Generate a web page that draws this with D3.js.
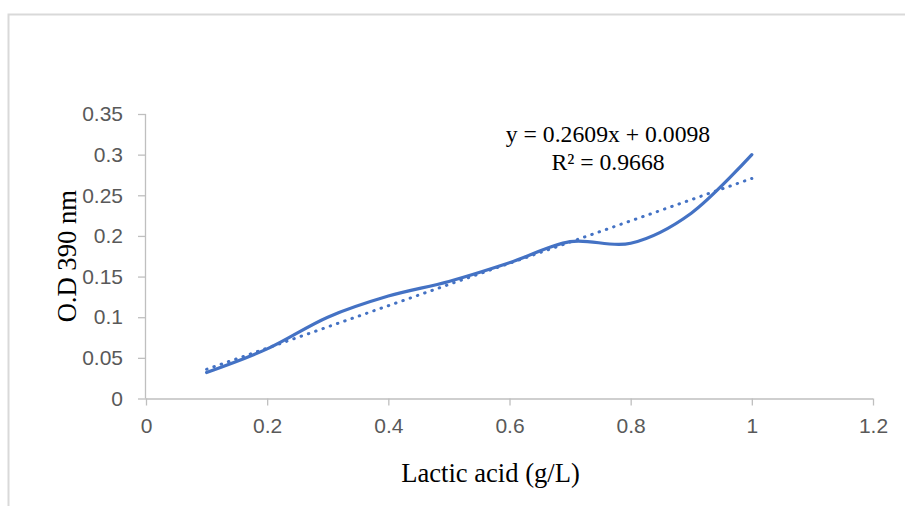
<!DOCTYPE html>
<html>
<head>
<meta charset="utf-8">
<script src="https://cdn.jsdelivr.net/npm/d3@7"></script>
<style>
  html, body { margin: 0; padding: 0; background: #fff; }
  svg { display: block; }
</style>
</head>
<body>
<div id="chart"></div>
<script>
// ---- data ----
const xValues = [0.1, 0.2, 0.3, 0.4, 0.5, 0.6, 0.7, 0.8, 0.9, 1.0];
const odValues = [0.032, 0.061, 0.100, 0.126, 0.144, 0.167, 0.193, 0.191, 0.228, 0.300];
const xTicks = [0, 0.2, 0.4, 0.6, 0.8, 1, 1.2];
const yTicks = [0, 0.05, 0.1, 0.15, 0.2, 0.25, 0.3, 0.35];
const trendSlope = 0.2609;
const trendIntercept = 0.0098;
const equationLines = ["y = 0.2609x + 0.0098", "R² = 0.9668"];
const xTitle = "Lactic acid (g/L)";
const yTitle = "O.D 390 nm";

// ---- layout ----
const W = 905, H = 506;
const plotLeft = 146, plotRight = 873, plotTop = 114, plotBottom = 398.5;
const blue = "#4472C4";

const svg = d3.select("#chart").append("svg").attr("width", W).attr("height", H);

// outer chart border
svg.append("rect")
  .attr("x", 8.5).attr("y", 14.5).attr("width", W + 20).attr("height", H + 20)
  .attr("fill", "none").attr("stroke", "#d9d9d9").attr("stroke-width", 2);

const x = d3.scaleLinear().domain([0, 1.2]).range([plotLeft, plotRight]);
const y = d3.scaleLinear().domain([0, 0.35]).range([plotBottom, plotTop]);

// axes
const xAxis = d3.axisBottom(x).tickValues(xTicks).tickSize(7).tickPadding(13)
  .tickFormat(d => String(d));
const yAxis = d3.axisLeft(y).tickValues(yTicks).tickSize(8).tickPadding(15)
  .tickFormat(d => String(d));

const gx = svg.append("g").attr("transform", `translate(0,${plotBottom})`).call(xAxis);
const gy = svg.append("g").attr("transform", `translate(${plotLeft},0)`).call(yAxis);

[gx, gy].forEach(g => {
  g.select(".domain").attr("stroke", "#bfbfbf").attr("stroke-width", 1.3);
  g.selectAll(".tick line").attr("stroke", "#bfbfbf").attr("stroke-width", 1.3);
  g.selectAll(".tick text")
    .attr("fill", "#595959")
    .style("font-family", "'Liberation Sans', Arial, sans-serif")
    .style("font-size", "21px");
});
gx.select(".domain").attr("d", `M${plotLeft},0.5H${plotRight}`);
gy.select(".domain").attr("d", `M-0.5,${plotTop}V${plotBottom}`);

// trendline (dotted)
const trendX = [d3.min(xValues), d3.max(xValues)];
svg.append("line")
  .attr("x1", x(trendX[0])).attr("y1", y(trendSlope * trendX[0] + trendIntercept))
  .attr("x2", x(trendX[1])).attr("y2", y(trendSlope * trendX[1] + trendIntercept))
  .attr("stroke", blue).attr("stroke-width", 3)
  .attr("stroke-linecap", "round")
  .attr("stroke-dasharray", "0.5 7.2");

// smoothed data line
const line = d3.line()
  .x((d, i) => x(xValues[i]))
  .y(d => y(d))
  .curve(d3.curveCatmullRom.alpha(0));
svg.append("path")
  .datum(odValues)
  .attr("d", line)
  .attr("fill", "none")
  .attr("stroke", blue)
  .attr("stroke-width", 3.2)
  .attr("stroke-linecap", "round")
  .attr("stroke-linejoin", "round");

// equation
const serif = "'Liberation Serif', 'Times New Roman', serif";
svg.append("text")
  .attr("x", 608).attr("y", 142)
  .attr("text-anchor", "middle")
  .style("font-family", serif).style("font-size", "23.7px").attr("fill", "#000")
  .text(equationLines[0]);
svg.append("text")
  .attr("x", 608).attr("y", 170)
  .attr("text-anchor", "middle")
  .style("font-family", serif).style("font-size", "23.7px").attr("fill", "#000")
  .text(equationLines[1]);

// axis titles
svg.append("text")
  .attr("x", 490.5).attr("y", 481.5)
  .attr("text-anchor", "middle")
  .style("font-family", serif).style("font-size", "26.6px").attr("fill", "#000")
  .text(xTitle);
svg.append("text")
  .attr("transform", `translate(76,${(plotTop + plotBottom) / 2}) rotate(-90)`)
  .attr("text-anchor", "middle")
  .style("font-family", serif).style("font-size", "26.6px").attr("fill", "#000")
  .text(yTitle);
</script>
</body>
</html>
